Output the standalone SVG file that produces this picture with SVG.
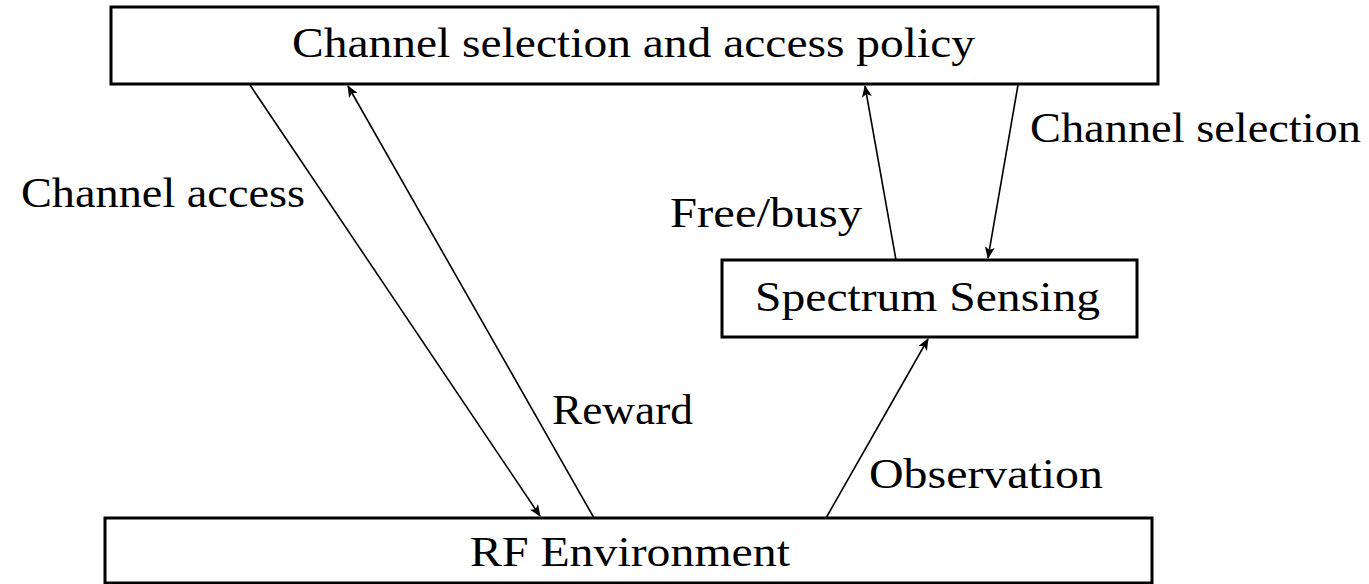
<svg xmlns="http://www.w3.org/2000/svg" width="1369" height="584" viewBox="0 0 1369 584">
<style>
.box{fill:#fff;stroke:#000;stroke-width:3}
.t{font-family:"Liberation Serif","DejaVu Serif",serif;font-size:43px;fill:#000}
.ln{stroke:#000;stroke-width:1.6;fill:none;marker-end:url(#ah)}
</style>
<defs>
<marker id="ah" viewBox="0 0 12 10" refX="11" refY="5" markerWidth="12" markerHeight="10" markerUnits="userSpaceOnUse" orient="auto">
<path d="M0,0 L12,5 L0,10 L3,5 Z" fill="#000"/>
</marker>
</defs>
<rect width="1369" height="584" fill="#fff"/>
<g id="policy">
<rect class="box" x="111" y="7" width="1047" height="77"/>
<text class="t" x="292" y="57" textLength="683" lengthAdjust="spacingAndGlyphs">Channel selection and access policy</text>
</g>
<g id="sensing">
<rect class="box" x="722" y="260" width="415" height="77"/>
<text class="t" x="755" y="311" textLength="345" lengthAdjust="spacingAndGlyphs">Spectrum Sensing</text>
</g>
<g id="rf">
<rect class="box" x="105" y="518" width="1047" height="65"/>
<text class="t" x="470" y="566" textLength="320" lengthAdjust="spacingAndGlyphs">RF Environment</text>
</g>
<g id="connectors">
<line class="ln" x1="250" y1="85" x2="540" y2="516"/>
<line class="ln" x1="594" y1="518" x2="348" y2="86"/>
<line class="ln" x1="896" y1="260" x2="865" y2="86"/>
<line class="ln" x1="1018" y1="85" x2="988" y2="258"/>
<line class="ln" x1="826" y1="518" x2="928" y2="339"/>
<text class="t" x="21" y="207" textLength="284" lengthAdjust="spacingAndGlyphs">Channel access</text>
<text class="t" x="552" y="424" textLength="141" lengthAdjust="spacingAndGlyphs">Reward</text>
<text class="t" x="670" y="227" textLength="192" lengthAdjust="spacingAndGlyphs">Free/busy</text>
<text class="t" x="1030" y="142" textLength="331" lengthAdjust="spacingAndGlyphs">Channel selection</text>
<text class="t" x="869" y="488" textLength="234" lengthAdjust="spacingAndGlyphs">Observation</text>
</g>
</svg>
